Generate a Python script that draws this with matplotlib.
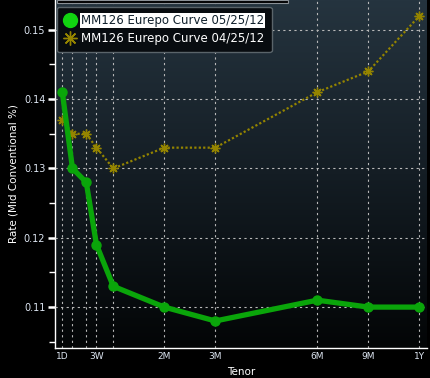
import numpy as np
import matplotlib.pyplot as plt
from matplotlib.colors import LinearSegmentedColormap
from matplotlib.lines import Line2D
from matplotlib.patches import Rectangle

# tenor axis: slots used by the chart (1M..1Y one slot per month step, short end squeezed)
tenors = ['1D', '1W', '2W', '3W', '1M', '2M', '3M', '6M', '9M', '1Y']
tenor_x = [0, 0.2, 0.47, 0.67, 1, 2, 3, 5, 6, 7]
labeled = ['1D', '3W', '2M', '3M', '6M', '9M', '1Y']

curve_0525 = [0.141, 0.130, 0.128, 0.119, 0.113, 0.110, 0.108, 0.111, 0.110, 0.110]
curve_0425 = [0.137, 0.135, 0.135, 0.133, 0.130, 0.133, 0.133, 0.141, 0.144, 0.152]

green = '#0aa50a'
yellow = '#948400'
tick_col = '#dde6f2'

fig = plt.figure(figsize=(4.31, 3.78), dpi=100, facecolor='black')
ax = fig.add_axes([55/431, 30/378, 372/431, 348/378])

xlim = (-0.143, 7.15)
ylim = (0.1041, 0.1543)

# background gradient
bg = LinearSegmentedColormap.from_list('bg', ['#25343f', '#141d24', '#030506'])
ax.imshow(np.linspace(0, 1, 256).reshape(-1, 1), cmap=bg, aspect='auto',
          extent=[xlim[0], xlim[1], ylim[0], ylim[1]], zorder=0)

ax.plot(tenor_x, curve_0425, color=yellow, lw=1.6, ls=(0, (1, 1)),
        marker=(8, 2, 0), ms=7, mec=yellow, mew=1, zorder=3)
ax.plot(tenor_x, curve_0525, color=green, lw=3.8, marker='o', ms=6.5,
        mec=green, zorder=4)

ax.set_xlim(xlim)
ax.set_ylim(ylim)

major_x = [tenor_x[tenors.index(t)] for t in labeled]
minor_x = [x for t, x in zip(tenors, tenor_x) if t not in labeled]
ax.set_xticks(major_x)
ax.set_xticklabels(labeled)
ax.set_xticks(minor_x, minor=True)
ax.set_yticks([0.11, 0.12, 0.13, 0.14, 0.15])
ax.set_yticklabels(['0.11', '0.12', '0.13', '0.14', '0.15'])
ax.set_yticks([0.105, 0.115, 0.125, 0.135, 0.145], minor=True)

ax.grid(True, which='both', axis='x', color='#b8b8b8', ls=(0, (2, 3)), lw=0.8)
ax.grid(True, which='major', axis='y', color='#b8b8b8', ls=(0, (2, 3)), lw=0.8)
ax.set_axisbelow(False)

ax.tick_params(axis='x', which='both', length=0, labelsize=6.5, labelcolor=tick_col, pad=3)
ax.tick_params(axis='y', which='major', length=5, width=1.8, color='white',
               labelsize=7, labelcolor=tick_col, pad=2)
ax.tick_params(axis='y', which='minor', length=4, width=1, color='white')

for s in ['top', 'right']:
    ax.spines[s].set_visible(False)
for s in ['left', 'bottom']:
    ax.spines[s].set_color('white')
    ax.spines[s].set_linewidth(1)

ax.set_xlabel('Tenor', color='white', fontsize=7.5, labelpad=4)
ax.set_ylabel('Rate (Mid Conventional %)', color='white', fontsize=7.5, labelpad=4)

handles = [Line2D([], [], ls='none', marker='o', ms=10, color='#11d411'),
           Line2D([], [], ls='none', marker=(8, 2, 0), ms=10, color=yellow, mew=1)]
leg = ax.legend(handles, ['MM126 Eurepo Curve 05/25/12', 'MM126 Eurepo Curve 04/25/12'],
                loc='upper left', bbox_to_anchor=(57/431, 1 - 7/378),
                bbox_transform=fig.transFigure, borderaxespad=0, fontsize=8.5,
                handlelength=1.0, handletextpad=0.45, borderpad=0.6,
                labelspacing=0.4, facecolor='#080c10', edgecolor='#5a646a',
                framealpha=1, fancybox=True)
leg.set_zorder(6)
for t in leg.get_texts():
    t.set_color('white')
leg.get_texts()[0].set_color('#10202c')
leg.get_texts()[0].set_bbox(dict(facecolor='white', edgecolor='none', pad=0.8))

# cut-off bar at the very top
fig.patches.append(Rectangle((57/431, 1 - 3/378), 231/431, 3/378,
                             transform=fig.transFigure, facecolor='black',
                             edgecolor='#8a9096', lw=0.8, zorder=7))

fig.savefig('out.png', dpi=100, facecolor='black')
